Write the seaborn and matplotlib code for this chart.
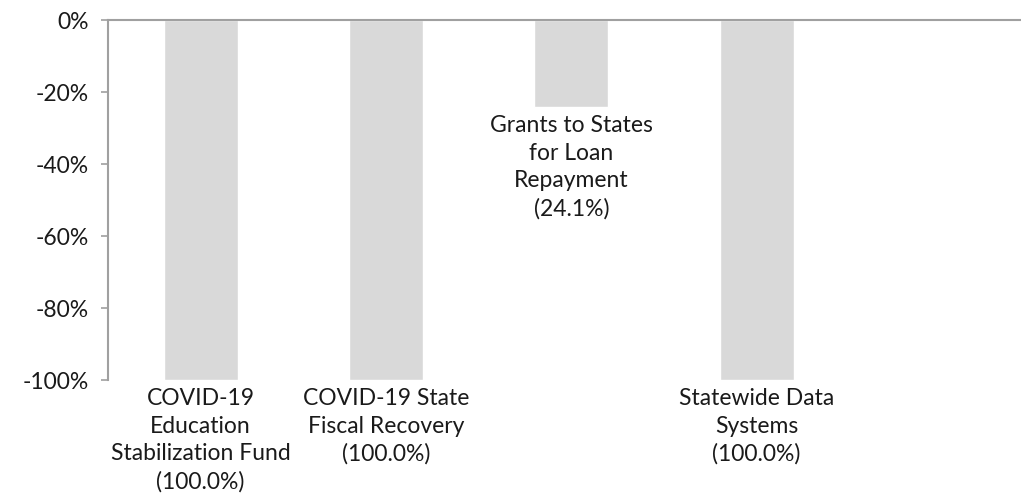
import matplotlib
matplotlib.use('Agg')
import matplotlib.pyplot as plt
import seaborn as sns
import pandas as pd
from matplotlib.ticker import FuncFormatter

# Program names and change (%)
programs = ['COVID-19\nEducation\nStabilization Fund',
            'COVID-19 State\nFiscal Recovery',
            'Grants to States\nfor Loan\nRepayment',
            'Statewide Data\nSystems']
change_pct = [-100.0, -100.0, -24.1, -100.0]
y_ticks = [0, -20, -40, -60, -80, -100]

df = pd.DataFrame({'program': programs, 'change': change_pct})

sns.set_style('white')
plt.rcParams['font.family'] = ['Lato', 'DejaVu Sans']

fig = plt.figure(figsize=(10.21, 4.98), dpi=100)
ax = fig.add_axes([108 / 1021, 1 - 380 / 498, 1 - 108 / 1021, 360 / 498])

sns.barplot(data=df, x='program', y='change', color='#d9d9d9', width=0.4,
            saturation=1, ax=ax)

ax.set_ylim(-100, 0)
ax.set_xlim(-0.5, 4.427)
ax.set_yticks(y_ticks)
ax.yaxis.set_major_formatter(FuncFormatter(lambda v, p: f'{v:.0f}%'))
ax.tick_params(axis='y', direction='out', length=5, width=1.2, color='#a0a0a0',
               labelsize=16.5, labelcolor='#1a1a1a', pad=9, left=True)
ax.set_xticks([])
ax.set_xlabel('')
ax.set_ylabel('')

for side in ['right', 'bottom']:
    ax.spines[side].set_visible(False)
for side in ['left', 'top']:
    ax.spines[side].set_color('#a0a0a0')
    ax.spines[side].set_linewidth(1.5)

# labels under each bar
for i, (name, val) in enumerate(zip(programs, change_pct)):
    ax.annotate(f'{name}\n({abs(val):.1f}%)', xy=(i, val), xytext=(0, -6),
                textcoords='offset points', ha='center', va='top',
                fontsize=16.5, color='#1a1a1a', linespacing=1.38,
                annotation_clip=False)

plt.savefig('out.png', dpi=100)
